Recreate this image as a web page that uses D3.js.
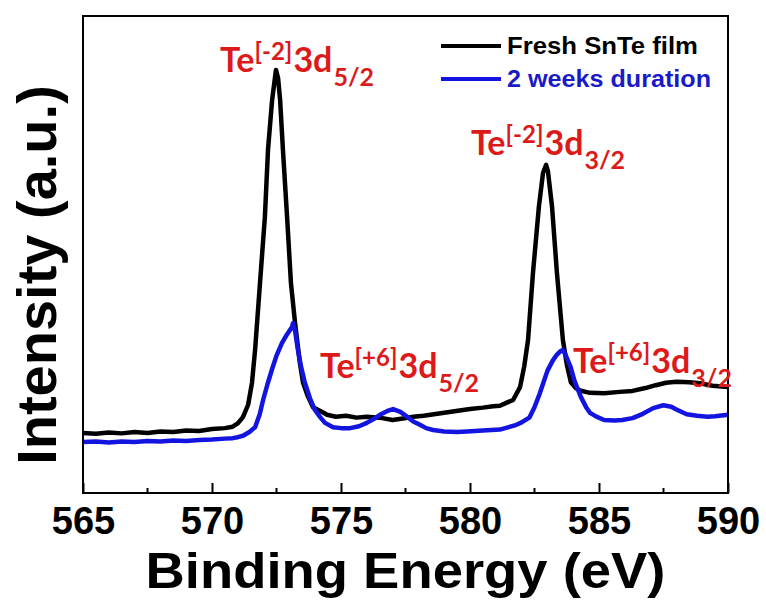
<!DOCTYPE html>
<html>
<head>
<meta charset="utf-8">
<script src="https://cdn.jsdelivr.net/npm/d3@7"></script>
<style>
  body { margin: 0; background: #fff; }
  svg { display: block; }
</style>
</head>
<body>
<div id="chart"></div>
<script>
// XPS Te 3d spectra (intensity in a.u., 0-100 frame)
const freshE = [565.0, 565.5, 566.0, 566.5, 567.0, 567.5, 568.0, 568.5, 569.0, 569.5, 570.0, 570.5, 570.8, 571.0, 571.2, 571.4,
  571.55, 571.67, 571.86, 572.05, 572.17, 572.33, 572.48, 572.56, 572.64, 572.75, 572.91, 573.06, 573.22, 573.4, 573.53, 573.7,
  573.91, 574.2, 574.46, 574.8, 575.2, 575.6, 576.0, 576.6, 577.0, 577.4, 577.8, 578.2, 578.6, 579.2, 579.6, 580.0, 580.5, 580.9,
  581.16, 581.45, 581.67, 581.94, 582.1, 582.25, 582.44, 582.67, 582.83, 582.95, 583.02, 583.18, 583.37, 583.6, 583.75, 583.91,
  584.1, 584.26, 584.65, 585.2, 585.8, 586.3, 586.8, 587.2, 587.6, 588.0, 588.5, 588.9, 589.4, 590.0];
const freshI = [12.6, 12.4, 12.7, 12.5, 12.8, 12.6, 12.9, 12.8, 13.1, 13.0, 13.4, 13.6, 13.9, 14.6, 15.9, 18.5,
  23.1, 30.0, 44.0, 57.9, 71.9, 82.4, 88.7, 87.0, 82.4, 71.9, 57.9, 44.0, 35.6, 27.5, 23.1, 20.5,
  18.0, 17.2, 16.4, 16.0, 16.2, 15.8, 16.0, 15.7, 15.3, 15.6, 16.0, 16.2, 16.5, 17.0, 17.3, 17.6, 17.9, 18.2,
  18.3, 19.0, 19.5, 22.2, 26.5, 32.1, 46.1, 60.0, 67.1, 68.8, 67.5, 60.0, 46.1, 32.1, 27.0, 23.2,
  22.0, 21.5, 21.0, 20.9, 21.2, 21.4, 22.0, 22.6, 23.1, 23.3, 23.2, 23.0, 22.5, 22.2];

const agedE = [565.0, 565.5, 566.0, 566.5, 567.0, 567.5, 568.0, 568.5, 569.0, 569.5, 570.0, 570.5, 570.8, 571.0, 571.2, 571.45,
  571.67, 571.85, 571.98, 572.15, 572.33, 572.5, 572.71, 572.9, 573.1, 573.14, 573.22, 573.33, 573.45, 573.6, 573.8, 573.99,
  574.19, 574.38, 574.69, 575.0, 575.35, 575.7, 576.0, 576.3, 576.51, 576.8, 577.02, 577.3, 577.56, 577.8, 578.06, 578.3,
  578.57, 579.0, 579.5, 579.88, 580.5, 581.16, 581.5, 581.8, 582.0, 582.3, 582.5, 582.7, 582.85, 583.0, 583.2, 583.35,
  583.5, 583.6, 583.7, 583.9, 584.05, 584.3, 584.5, 584.65, 584.9, 585.2, 585.6, 585.9, 586.3, 586.7, 587.1, 587.5,
  587.8, 588.0, 588.4, 588.8, 589.2, 589.5, 590.0];
const agedI = [10.7, 10.8, 10.6, 10.8, 10.7, 10.9, 10.8, 11.0, 10.9, 11.1, 11.2, 11.4, 11.5, 11.7, 12.0, 12.8,
  13.8, 16.5, 19.5, 22.8, 26.0, 28.8, 31.4, 33.2, 34.8, 35.6, 34.0, 30.0, 26.5, 23.1, 19.8, 17.4,
  15.9, 14.7, 13.8, 13.6, 13.6, 14.0, 14.7, 15.6, 16.4, 17.2, 17.6, 17.0, 16.0, 15.0, 14.3, 13.6,
  13.2, 12.9, 12.8, 12.9, 13.1, 13.3, 13.8, 14.3, 14.8, 15.8, 18.0, 20.8, 23.2, 25.6, 27.7, 28.9,
  29.7, 30.0, 29.0, 26.4, 23.5, 20.1, 18.0, 16.8, 16.0, 15.3, 15.2, 15.3, 15.7, 16.6, 17.8, 18.4,
  18.1, 17.5, 16.5, 16.2, 16.0, 16.1, 16.4];

const xTicks = [565, 570, 575, 580, 585, 590];
const xMinor = [567.5, 572.5, 577.5, 582.5, 587.5];
const seriesNames = ['Fresh SnTe film', '2 weeks duration'];

// peak labels: [ion, charge, orbital, subscript] and anchor position
const annoText = [['Te', '[-2]', '3d', '5/2'], ['Te', '[-2]', '3d', '3/2'], ['Te', '[+6]', '3d', '5/2'], ['Te', '[+6]', '3d', '3/2']];
const annoE = [570.31, 580.04, 574.19, 583.99];
const annoI = [88.3, 70.9, 24.1, 25.2];

const W = 766, H = 602;
const margin = { left: 83, right: 38, top: 16, bottom: 109 };

const svg = d3.select('#chart').append('svg')
  .attr('width', W)
  .attr('height', H);

const x = d3.scaleLinear().domain([565, 590]).range([margin.left, W - margin.right]);
const y = d3.scaleLinear().domain([0, 100]).range([H - margin.bottom, margin.top]);

const line = d3.line()
  .x(d => x(d[0]))
  .y(d => y(d[1]));

const fresh = freshE.map((e, i) => [e, freshI[i]]);
const aged = agedE.map((e, i) => [e, agedI[i]]);

const blue = '#1414e0';

svg.append('path')
  .datum(fresh)
  .attr('d', line)
  .attr('fill', 'none')
  .attr('stroke', '#000')
  .attr('stroke-width', 4.5)
  .attr('stroke-linejoin', 'round');

svg.append('path')
  .datum(aged)
  .attr('d', line)
  .attr('fill', 'none')
  .attr('stroke', blue)
  .attr('stroke-width', 4.5)
  .attr('stroke-linejoin', 'round');

// frame
svg.append('rect')
  .attr('x', x(565))
  .attr('y', y(100))
  .attr('width', x(590) - x(565))
  .attr('height', y(0) - y(100))
  .attr('fill', 'none')
  .attr('stroke', '#000')
  .attr('stroke-width', 2);

// inward ticks on bottom axis
const xAxis = d3.axisBottom(x).tickValues(xTicks).tickSizeInner(-10).tickSizeOuter(0).tickFormat(d3.format('d'));
const gx = svg.append('g')
  .attr('transform', `translate(0,${y(0)})`)
  .call(xAxis);
gx.select('.domain').remove();
gx.selectAll('.tick line').attr('stroke', '#000').attr('stroke-width', 2);
gx.selectAll('.tick text')
  .attr('y', 41)
  .attr('dy', 0)
  .attr('fill', '#000')
  .style('font-family', '"Liberation Sans", Arial, sans-serif')
  .style('font-weight', 'bold')
  .style('font-size', '38px');

svg.append('g')
  .selectAll('line')
  .data(xMinor)
  .enter().append('line')
  .attr('x1', d => x(d))
  .attr('x2', d => x(d))
  .attr('y1', y(0))
  .attr('y2', y(0) - 5)
  .attr('stroke', '#000')
  .attr('stroke-width', 2);

// axis titles
svg.append('text')
  .attr('x', (x(565) + x(590)) / 2)
  .attr('y', 588)
  .attr('text-anchor', 'middle')
  .attr('textLength', 520)
  .attr('lengthAdjust', 'spacingAndGlyphs')
  .style('font-family', '"Liberation Sans", Arial, sans-serif')
  .style('font-weight', 'bold')
  .style('font-size', '50px')
  .text('Binding Energy (eV)');

svg.append('text')
  .attr('transform', 'translate(56,275) rotate(-90)')
  .attr('text-anchor', 'middle')
  .style('font-family', '"Liberation Sans", Arial, sans-serif')
  .style('font-weight', 'bold')
  .style('font-size', '56px')
  .text('Intensity (a.u.)');

// legend
const legend = svg.append('g');
const legendColors = ['#000', blue];
const legendText = ['#000', '#1a1ac8'];
const legendWidth = [191, 204];
seriesNames.forEach((name, i) => {
  const ly = 46 + i * 33;
  legend.append('line')
    .attr('x1', 441).attr('x2', 501)
    .attr('y1', ly).attr('y2', ly)
    .attr('stroke', legendColors[i])
    .attr('stroke-width', 4);
  legend.append('text')
    .attr('x', 507)
    .attr('y', ly + 8)
    .attr('fill', legendText[i])
    .attr('textLength', legendWidth[i])
    .attr('lengthAdjust', 'spacingAndGlyphs')
    .style('font-family', '"Liberation Sans", Arial, sans-serif')
    .style('font-weight', 'bold')
    .style('font-size', '24px')
    .text(name);
});

// peak annotations
const red = '#dc1a1a';
annoText.forEach((parts, i) => {
  const t = svg.append('text')
    .attr('x', x(annoE[i]))
    .attr('y', y(annoI[i]))
    .attr('fill', red)
    .style('font-family', 'Lato, "Open Sans", sans-serif')
    .style('font-weight', 'bold')
    .style('font-size', '34px');
  t.append('tspan').text(parts[0]);
  t.append('tspan').attr('dy', -12).style('font-size', '24px').text(parts[1]);
  t.append('tspan').attr('dx', 1).attr('dy', 12).text(parts[2]);
  t.append('tspan').attr('dx', 1).attr('dy', 14).style('font-size', '25px').text(parts[3]);
});
</script>
</body>
</html>
